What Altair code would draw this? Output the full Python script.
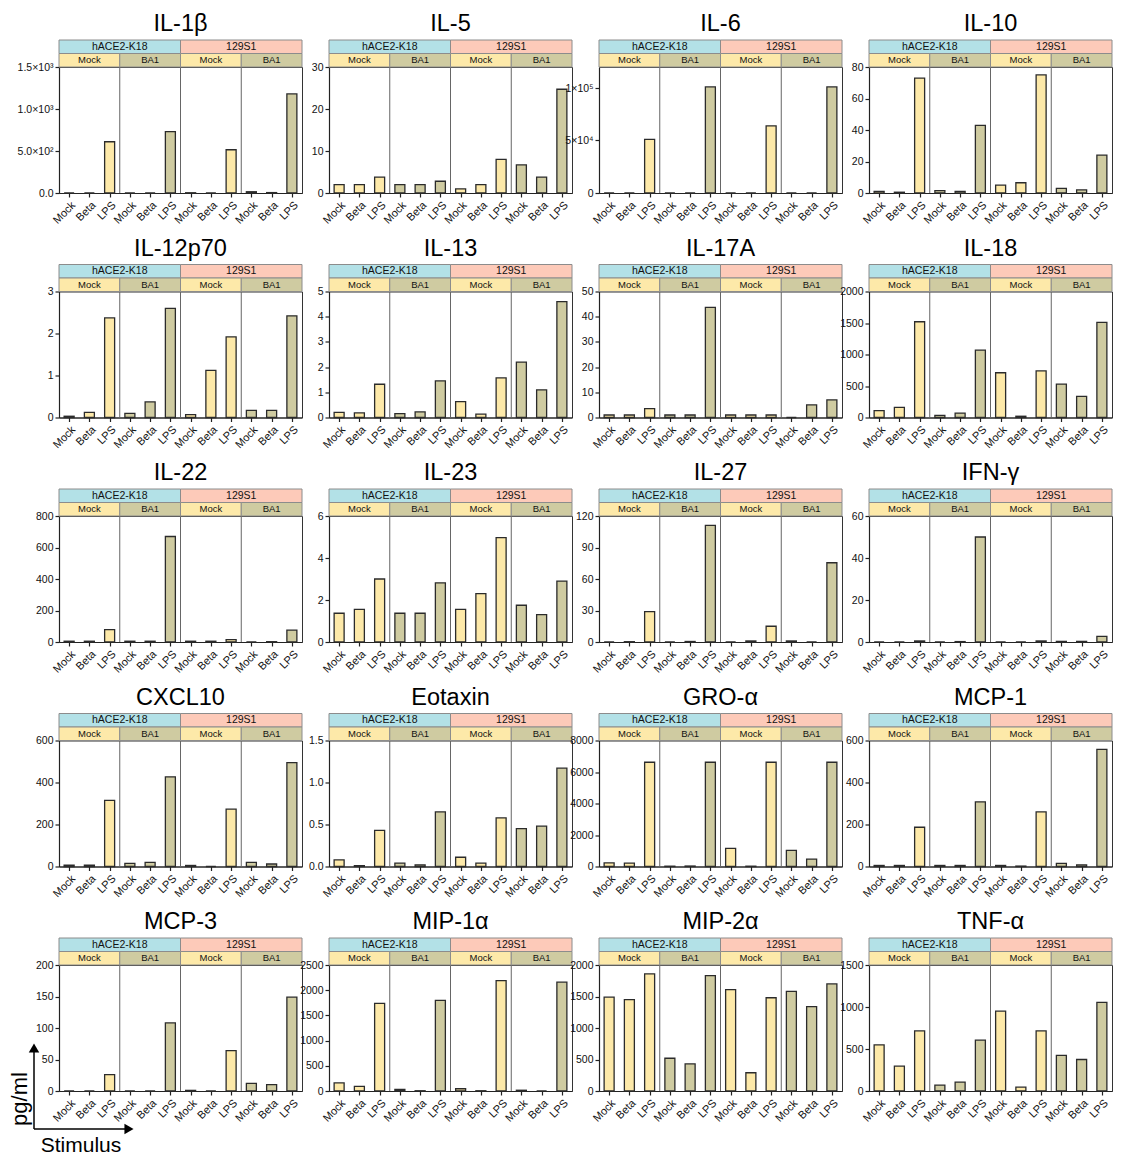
import altair as alt
import pandas as pd

FONT = "Liberation Sans"

CYTOKINES = ["IL-1β", "IL-5", "IL-6", "IL-10",
             "IL-12p70", "IL-13", "IL-17A", "IL-18",
             "IL-22", "IL-23", "IL-27", "IFN-γ",
             "CXCL10", "Eotaxin", "GRO-α", "MCP-1",
             "MCP-3", "MIP-1α", "MIP-2α", "TNF-α"]
STRAINS = ["hACE2-K18", "129S1"]
INFECTIONS = ["Mock", "BA1"]
STIMULI = ["Mock", "Beta", "LPS"]

# order: hACE2-K18/Mock (Mock,Beta,LPS), hACE2-K18/BA1, 129S1/Mock, 129S1/BA1
il1b = [0, 0, 610, 0, 0, 730, 3, 0, 515, 15, 5, 1180]
il5 = [2, 2, 3.8, 2, 2, 2.8, 1, 2, 8, 6.7, 3.8, 24.7]
il6 = [0, 0, 51000, 0, 0, 101000, 0, 0, 64000, 0, 0, 101000]
il10 = [1, 0.5, 73, 1.5, 1, 43, 5, 6.5, 75, 3, 2, 24]
il12p70 = [0.03, 0.12, 2.37, 0.1, 0.37, 2.6, 0.07, 1.12, 1.92, 0.17, 0.17, 2.42]
il13 = [0.2, 0.18, 1.32, 0.15, 0.22, 1.45, 0.63, 0.13, 1.57, 2.2, 1.1, 4.6]
il17a = [1, 1, 3.5, 1, 1, 43.7, 1, 1, 1, 0, 5, 7]
il18 = [110, 160, 1520, 35, 70, 1070, 710, 20, 740, 530, 335, 1510]
il22 = [5, 5, 78, 5, 5, 670, 5, 5, 15, 0, 2, 75]
il23 = [1.37, 1.55, 3.0, 1.37, 1.37, 2.82, 1.55, 2.3, 4.97, 1.75, 1.3, 2.9]
il27 = [0, 0.3, 29, 0, 0.5, 111, 0, 1, 15, 1, 0, 75.5]
ifng = [0, 0, 0.5, 0, 0.2, 50, 0, 0, 0.5, 0.3, 0.3, 2.7]
cxcl10 = [7, 7, 315, 15, 20, 427, 5, 0, 273, 20, 12, 495]
eotaxin = [0.08, 0.01, 0.43, 0.04, 0.02, 0.65, 0.11, 0.04, 0.58, 0.45, 0.48, 1.17]
groa = [230, 220, 6620, 20, 30, 6620, 1150, 20, 6620, 1020, 470, 6620]
mcp1 = [5, 5, 187, 5, 5, 308, 5, 2, 260, 15, 8, 558]
mcp3 = [0, 0, 26, 0, 0, 108, 1, 0, 64, 12, 10, 149]
mip1a = [160, 90, 1740, 30, 5, 1800, 45, 5, 2190, 15, 0, 2160]
mip2a = [1490, 1450, 1860, 520, 430, 1830, 1610, 290, 1480, 1580, 1340, 1700]
tnfa = [550, 295, 715, 70, 105, 605, 950, 45, 715, 425, 375, 1055]

SERIES = [il1b, il5, il6, il10, il12p70, il13, il17a, il18, il22, il23,
          il27, ifng, cxcl10, eotaxin, groa, mcp1, mcp3, mip1a, mip2a, tnfa]

Y_TICKS = [[0, 500, 1000, 1500], [0, 10, 20, 30], [0, 50000, 100000], [0, 20, 40, 60, 80],
           [0, 1, 2, 3], [0, 1, 2, 3, 4, 5], [0, 10, 20, 30, 40, 50], [0, 500, 1000, 1500, 2000],
           [0, 200, 400, 600, 800], [0, 2, 4, 6], [0, 30, 60, 90, 120], [0, 20, 40, 60],
           [0, 200, 400, 600], [0, 0.5, 1.0, 1.5], [0, 2000, 4000, 6000, 8000], [0, 200, 400, 600],
           [0, 50, 100, 150, 200], [0, 500, 1000, 1500, 2000, 2500], [0, 500, 1000, 1500, 2000], [0, 500, 1000, 1500]]
Y_TOP = [1500, 30, 120000, 80, 3, 5, 50, 2000, 800, 6, 120, 60,
         600, 1.5, 8000, 600, 200, 2500, 2000, 1500]
IL1B_TICK_LABELS = ["0.0", "5.0×10²", "1.0×10³", "1.5×10³"]
IL6_TICK_LABELS = ["0", "5×10⁴", "1×10⁵"]
EOTAXIN_TICK_LABELS = ["0.0", "0.5", "1.0", "1.5"]
SPECIAL_LABELS = {0: IL1B_TICK_LABELS, 2: IL6_TICK_LABELS, 13: EOTAXIN_TICK_LABELS}

STRAIN_COLORS = ["#b3e1e7", "#fdcab9"]
INF_COLORS = ["#fde9a9", "#cfcba1"]

W, H = 243, 126
HDR = 13.5


def label_expr(ticks, labels):
    expr = "''"
    for t, l in reversed(list(zip(ticks, labels))):
        expr = f"datum.value == {t} ? '{l}' : " + expr
    return expr


def panel(idx):
    name = CYTOKINES[idx]
    values = SERIES[idx]
    rows = []
    i = 0
    for s in STRAINS:
        for inf in INFECTIONS:
            for st in STIMULI:
                rows.append({"pos": i + 0.5, "value": values[i], "infection": inf,
                             "strain": s, "stimulus": st})
                i += 1
    bars_df = pd.DataFrame(rows)

    xscale = alt.Scale(domain=[0, 12], nice=False, zero=False, padding=0)
    stim_arr = "[" + ",".join(f"'{s}'" for s in STIMULI) + "]"
    xaxis = alt.Axis(values=[k + 0.5 for k in range(12)],
                     labelExpr=f"{stim_arr}[floor(datum.value) % 3]",
                     labelAngle=-45, title=None, grid=False, tickSize=4,
                     labelPadding=2, labelFontSize=11,
                     labelOverlap=False, labelBound=False, labelFlush=False)
    yaxis_kw = dict(values=Y_TICKS[idx], title=None, grid=False, tickSize=4,
                    labelOverlap=False)
    if idx in SPECIAL_LABELS:
        yaxis_kw["labelExpr"] = label_expr(Y_TICKS[idx], SPECIAL_LABELS[idx])
    else:
        yaxis_kw["format"] = "d"

    bars = alt.Chart(bars_df).mark_bar(stroke="#2b2b2b", strokeWidth=1.3, size=10).encode(
        x=alt.X("pos:Q", scale=xscale, axis=xaxis),
        y=alt.Y("value:Q", scale=alt.Scale(domain=[0, Y_TOP[idx]], nice=False),
                axis=alt.Axis(**yaxis_kw)),
        fill=alt.Fill("infection:N", scale=alt.Scale(domain=INFECTIONS, range=INF_COLORS),
                      legend=None),
    )

    sep_df = pd.DataFrame({"pos": [3, 6, 9]})
    seps = alt.Chart(sep_df).mark_rule(color="#666", strokeWidth=1).encode(
        x=alt.X("pos:Q", scale=xscale, axis=xaxis),
        y=alt.value(0), y2=alt.value(H))

    strain_df = pd.DataFrame({"pos": [0, 6], "x1": [6, 12], "xm": [3, 9],
                              "label": STRAINS, "fill": STRAIN_COLORS})
    inf_df = pd.DataFrame({"pos": [0, 3, 6, 9], "x1": [3, 6, 9, 12], "xm": [1.5, 4.5, 7.5, 10.5],
                           "label": INFECTIONS * 2, "fill": INF_COLORS * 2})

    s_rect = alt.Chart(strain_df).mark_rect(stroke="#8c8c8c", strokeWidth=1).encode(
        x=alt.X("pos:Q", scale=xscale, axis=xaxis), x2="x1:Q",
        y=alt.value(-2 * HDR), y2=alt.value(-HDR),
        color=alt.Color("fill:N", scale=None))
    s_text = alt.Chart(strain_df).mark_text(font=FONT, fontSize=10.5, color="#111", baseline="middle").encode(
        x=alt.X("xm:Q", scale=xscale, axis=xaxis), y=alt.value(-1.5 * HDR), text="label:N")
    i_rect = alt.Chart(inf_df).mark_rect(stroke="#8c8c8c", strokeWidth=1).encode(
        x=alt.X("pos:Q", scale=xscale, axis=xaxis), x2="x1:Q",
        y=alt.value(-HDR), y2=alt.value(0),
        color=alt.Color("fill:N", scale=None))
    i_text = alt.Chart(inf_df).mark_text(font=FONT, fontSize=9.5, color="#111", baseline="middle").encode(
        x=alt.X("xm:Q", scale=xscale, axis=xaxis), y=alt.value(-0.5 * HDR), text="label:N")

    layers = [bars, seps, s_rect, s_text, i_rect, i_text]

    if name == "MCP-3":
        one = pd.DataFrame({"k": [0]})
        v_line = alt.Chart(one).mark_rule(color="black", strokeWidth=1.5).encode(
            x=alt.value(-25), y=alt.value(84), y2=alt.value(164))
        h_line = alt.Chart(one).mark_rule(color="black", strokeWidth=1.5).encode(
            x=alt.value(-25), x2=alt.value(68), y=alt.value(164))
        up = alt.Chart(one).mark_point(shape="triangle-up", filled=True, color="black",
                                       size=110, opacity=1).encode(
            x=alt.value(-25), y=alt.value(83))
        right = alt.Chart(one).mark_point(shape="triangle-right", filled=True, color="black",
                                          size=110, opacity=1).encode(
            x=alt.value(70), y=alt.value(164))
        ylab = alt.Chart(one).mark_text(font=FONT, fontSize=22, angle=270, color="black",
                                        baseline="middle").encode(
            x=alt.value(-39), y=alt.value(134), text=alt.value("pg/ml"))
        xlab = alt.Chart(one).mark_text(font=FONT, fontSize=21, color="black",
                                        baseline="middle").encode(
            x=alt.value(22), y=alt.value(181), text=alt.value("Stimulus"))
        layers += [v_line, h_line, up, right, ylab, xlab]

    return alt.layer(*layers).properties(
        width=W, height=H,
        title=alt.TitleParams(name, font=FONT, fontSize=23.5, fontWeight="normal",
                              anchor="middle", frame="group", offset=4, color="black"))


panels = [panel(k) for k in range(len(CYTOKINES))]

chart = alt.concat(*panels, columns=4, bounds="flush",
                   spacing=alt.RowColnumber(row=98.5, column=27)).properties(
    padding={"left": 0, "right": 0, "top": 3, "bottom": 0}
).configure_view(
    stroke="#333", strokeWidth=1
).configure_axis(
    labelFont=FONT, labelFontSize=10.5, labelColor="#111",
    domainColor="#222", tickColor="#222", domainWidth=1.2, tickWidth=1.2
)

chart.save("out.html", embed_options={"renderer": "svg", "actions": False})
